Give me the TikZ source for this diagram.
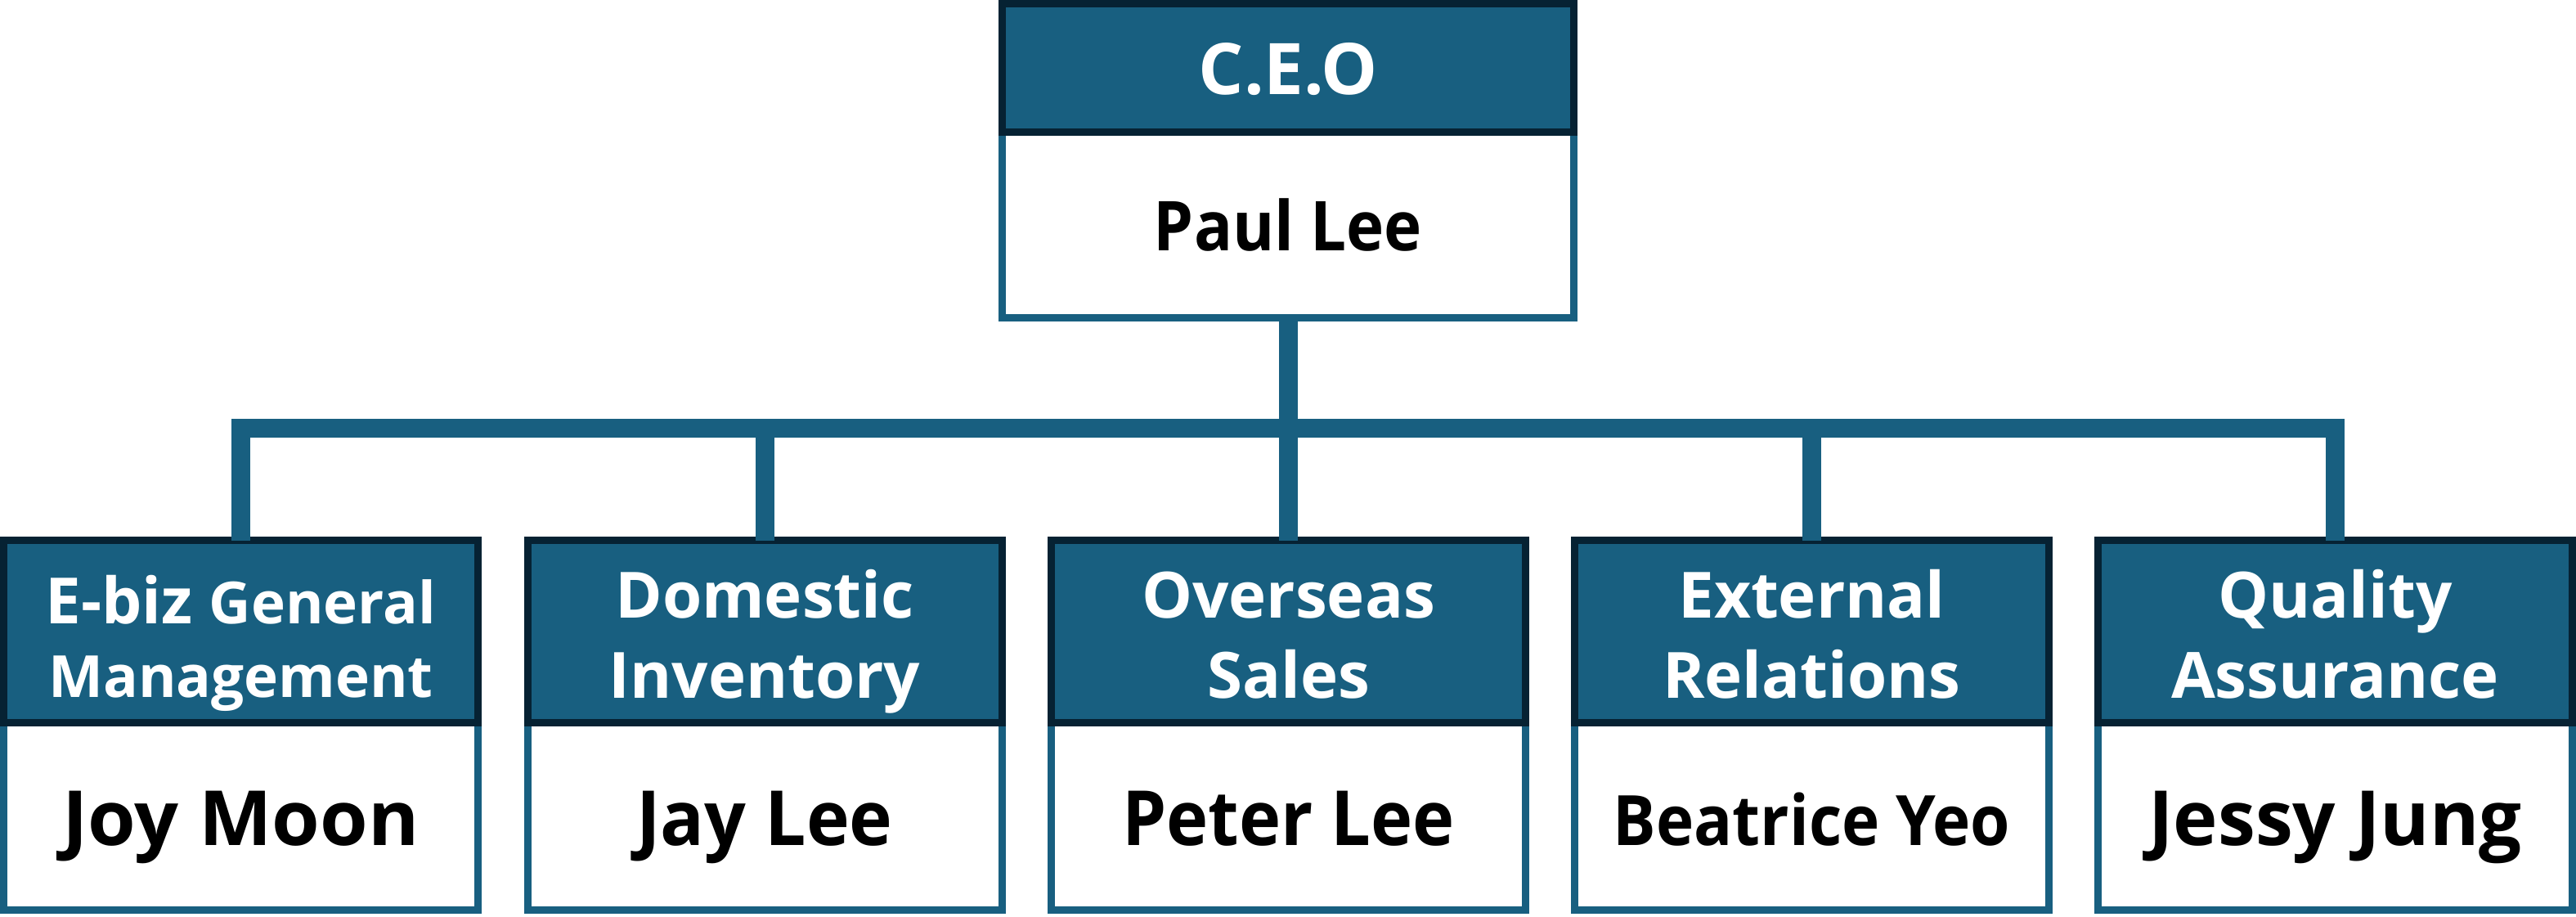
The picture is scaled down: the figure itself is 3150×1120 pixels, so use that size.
\documentclass[tikz,border=0pt]{standalone}
\usepackage{graphicx}
\usepackage{fontspec}
\setmainfont{Open Sans}
\definecolor{hblue}{HTML}{185F80}
\definecolor{navy}{HTML}{062233}
\begin{document}
\begin{tikzpicture}[x=1pt,y=-1pt,
  hdr/.style={draw=navy, fill=hblue, line width=9pt, minimum width=580pt, minimum height=223pt, inner sep=0pt, outer sep=0pt},
  body/.style={draw=hblue, fill=white, line width=9pt, minimum width=580pt, minimum height=229pt, inner sep=0pt, outer sep=0pt},
  conn/.style={draw=hblue, line width=23pt},
  hl/.style={anchor=base, text=white, font=\bfseries\fontsize{78}{78}\selectfont, inner sep=0pt},
  nm/.style={anchor=base, text=black, font=\bfseries\fontsize{93}{93}\selectfont, inner sep=0pt}]
\useasboundingbox (0,0) rectangle (3150,1120);
% CEO
\node[body, minimum width=699pt, minimum height=227pt] (ceob) at (1575,275) {};
\node[hdr, minimum width=699pt, minimum height=157pt] (ceoh) at (1575,83) {};
\node[hl, font=\bfseries\fontsize{87}{87}\selectfont] (ceot) at (1575,115) {C.E.O};
\node[nm, font=\bfseries\fontsize{84}{84}\selectfont] (ceon) at (1575,306) {\scalebox{0.93}[1]{Paul Lee}};
% children
\foreach \i/\x in {1/294.5,2/935,3/1575.5,4/2215.5,5/2855.5}{
  \node[body] (b\i) at (\x,998) {};
  \node[hdr] (h\i) at (\x,772) {};
}
% connectors
\coordinate (bar) at (1575,523.5);
\draw[conn] (ceob.south) -- (bar);
\draw[conn] (h1.north) |- (bar) -| (h5.north);
\draw[conn] (h2.north) -- (h2.north |- bar);
\draw[conn] (h3.north) -- (h3.north |- bar);
\draw[conn] (h4.north) -- (h4.north |- bar);
% header texts
\node[hl] (t1a) at (294.5,762) {E-biz {\fontsize{71}{71}\selectfont General}};
\node[hl, font=\bfseries\fontsize{71}{71}\selectfont] (t1b) at (294.5,852) {Management};
\node[hl] (t2a) at (935,755) {Domestic};
\node[hl] (t2b) at (935,853) {Inventory};
\node[hl] (t3a) at (1575.5,755) {Overseas};
\node[hl] (t3b) at (1575.5,853) {Sales};
\node[hl] (t4a) at (2215.5,755) {External};
\node[hl] (t4b) at (2215.5,853) {Relations};
\node[hl] (t5a) at (2855.5,755) {Quality};
\node[hl] (t5b) at (2855.5,853) {Assurance};
% names
\node[nm] (n1) at (294.5,1033) {\scalebox{1.02}[1]{Joy Moon}};
\node[nm] (n2) at (935,1033) {\scalebox{0.96}[1]{Jay Lee}};
\node[nm] (n3) at (1575.5,1033) {\scalebox{0.93}[1]{Peter Lee}};
\node[nm, font=\bfseries\fontsize{85}{85}\selectfont] (n4) at (2215.5,1033) {\scalebox{0.92}[1]{Beatrice Yeo}};
\node[nm] (n5) at (2855.5,1033) {\scalebox{0.99}[1]{Jessy Jung}};
\end{tikzpicture}
\end{document}
